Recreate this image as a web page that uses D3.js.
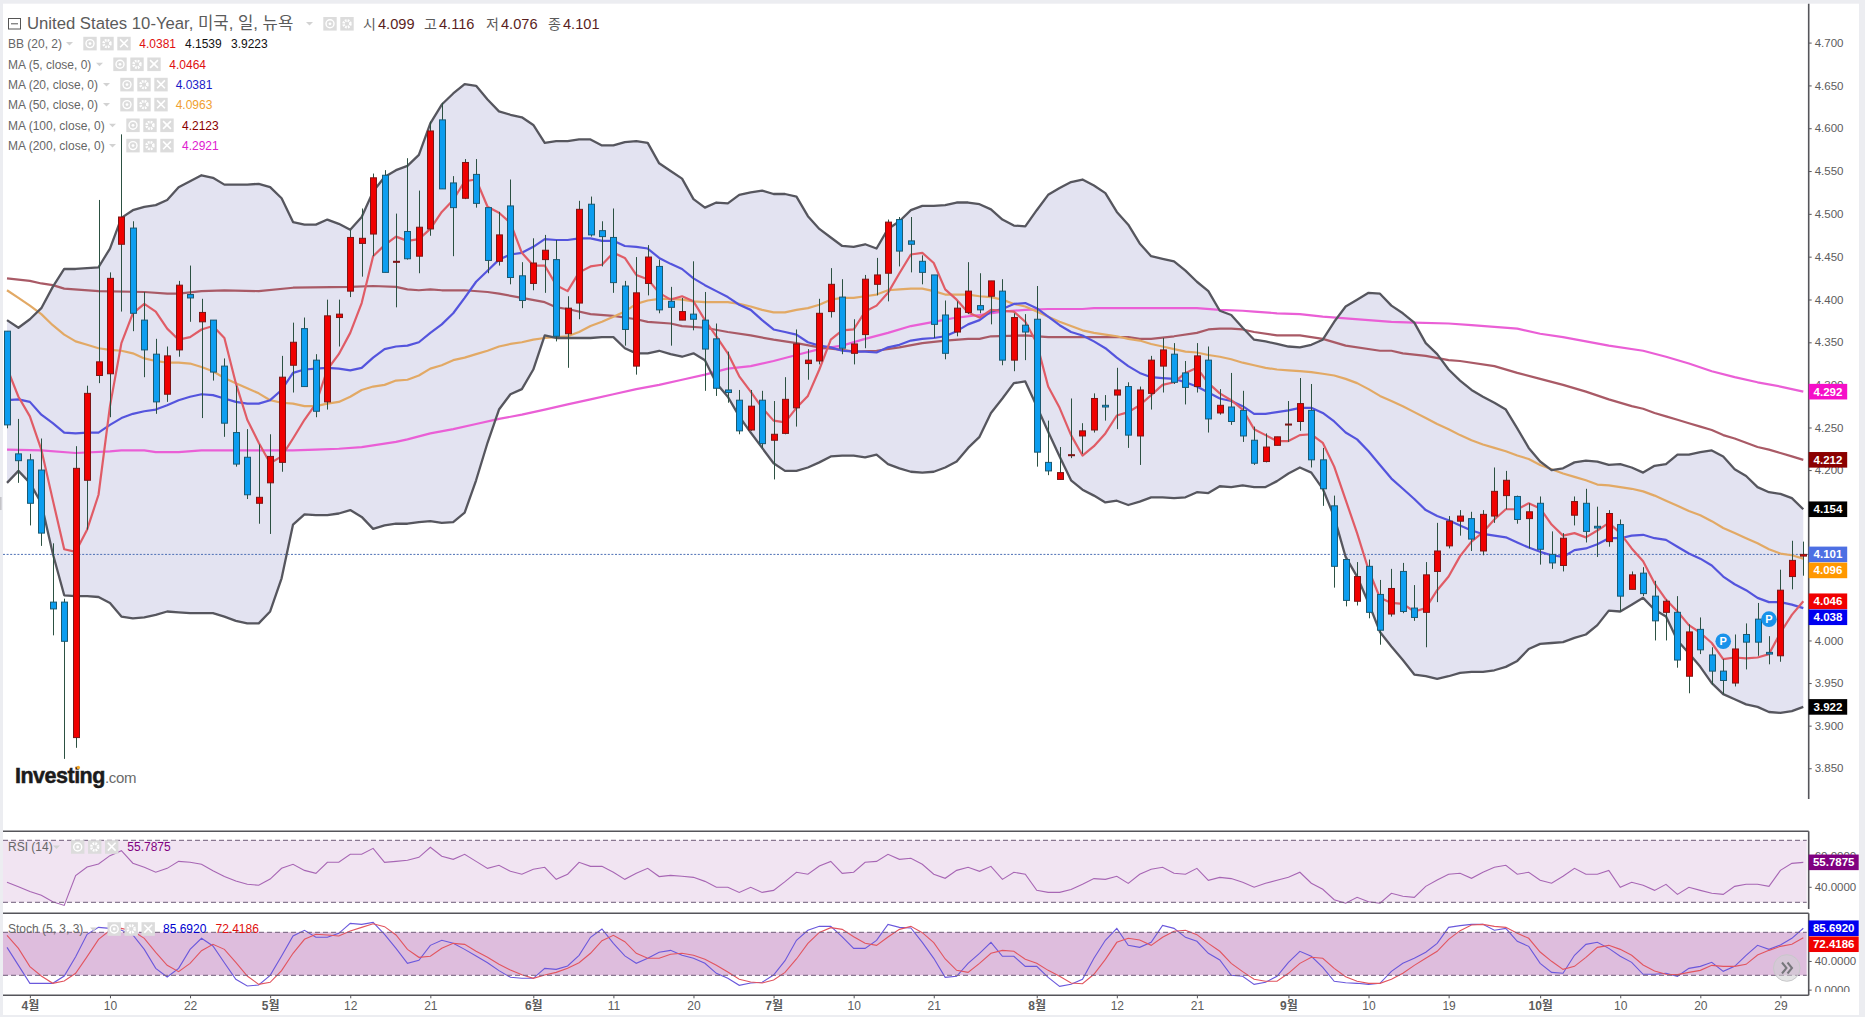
<!DOCTYPE html>
<html lang="ko">
<head>
<meta charset="utf-8">
<title>United States 10-Year</title>
<script src="https://cdn.jsdelivr.net/npm/d3@7/dist/d3.min.js"></script>
<style>
html,body{margin:0;padding:0;background:#fff;overflow:hidden}
svg{display:block}
text{font-family:"Liberation Sans","Noto Sans CJK KR",Arial,sans-serif}
</style>
</head>
<body>
<svg id="chart" width="1865" height="1017"></svg>
<script>
// Daily candles
const opens = [4.363,4.219,4.212,4.200,4.045,4.045,3.886,4.188,4.311,4.313,4.465,4.484,4.376,4.336,4.289,4.341,4.406,4.374,4.376,4.322,4.244,4.215,4.161,4.185,4.209,4.323,4.366,4.329,4.280,4.379,4.410,4.466,4.477,4.546,4.445,4.480,4.451,4.483,4.611,4.537,4.519,4.547,4.508,4.445,4.510,4.428,4.419,4.447,4.447,4.360,4.396,4.512,4.481,4.473,4.416,4.322,4.419,4.439,4.398,4.376,4.383,4.376,4.354,4.294,4.282,4.247,4.282,4.235,4.243,4.273,4.325,4.328,4.386,4.403,4.337,4.359,4.418,4.431,4.494,4.469,4.445,4.429,4.382,4.362,4.385,4.393,4.404,4.410,4.329,4.370,4.377,4.209,4.189,4.217,4.240,4.247,4.276,4.288,4.298,4.240,4.290,4.322,4.336,4.314,4.298,4.329,4.267,4.274,4.270,4.235,4.210,4.229,4.253,4.257,4.270,4.212,4.158,4.095,4.046,4.087,4.054,4.031,4.081,4.038,4.033,4.081,4.111,4.140,4.143,4.105,4.146,4.170,4.169,4.143,4.161,4.101,4.088,4.147,4.161,4.134,4.116,4.136,4.060,4.079,4.052,4.033,4.033,3.958,4.013,3.983,3.964,3.950,4.007,4.025,3.986,3.982,4.075,4.099];
const highs = [4.363,4.260,4.219,4.237,4.114,4.049,4.228,4.299,4.517,4.432,4.594,4.492,4.409,4.354,4.345,4.422,4.440,4.401,4.376,4.331,4.299,4.248,4.230,4.242,4.334,4.373,4.379,4.336,4.400,4.400,4.482,4.507,4.548,4.552,4.501,4.566,4.528,4.609,4.631,4.545,4.565,4.565,4.508,4.503,4.541,4.444,4.472,4.476,4.470,4.404,4.516,4.521,4.492,4.507,4.422,4.450,4.464,4.447,4.415,4.402,4.445,4.409,4.372,4.339,4.294,4.294,4.293,4.281,4.309,4.365,4.342,4.401,4.437,4.424,4.377,4.429,4.449,4.494,4.497,4.497,4.452,4.429,4.399,4.398,4.444,4.431,4.422,4.424,4.384,4.383,4.416,4.258,4.227,4.284,4.255,4.290,4.288,4.320,4.303,4.298,4.334,4.355,4.349,4.328,4.349,4.345,4.295,4.314,4.293,4.251,4.243,4.239,4.281,4.308,4.301,4.226,4.170,4.095,4.092,4.095,4.071,4.084,4.091,4.065,4.092,4.138,4.146,4.153,4.151,4.153,4.203,4.199,4.170,4.161,4.169,4.128,4.126,4.169,4.178,4.157,4.153,4.142,4.081,4.086,4.070,4.048,4.052,4.019,4.027,3.992,3.978,4.007,4.020,4.044,4.005,4.083,4.117,4.116];
const lows = [4.249,4.185,4.135,4.111,4.006,3.861,3.874,4.130,4.302,4.262,4.386,4.363,4.309,4.266,4.280,4.333,4.374,4.261,4.305,4.239,4.204,4.166,4.137,4.125,4.198,4.291,4.298,4.262,4.271,4.345,4.403,4.427,4.451,4.432,4.391,4.447,4.431,4.475,4.530,4.451,4.518,4.508,4.431,4.440,4.418,4.390,4.411,4.408,4.351,4.320,4.377,4.474,4.439,4.408,4.346,4.312,4.405,4.384,4.346,4.376,4.364,4.293,4.287,4.279,4.242,4.246,4.226,4.189,4.242,4.251,4.306,4.324,4.379,4.336,4.324,4.343,4.405,4.398,4.439,4.432,4.418,4.355,4.330,4.357,4.383,4.384,4.371,4.323,4.316,4.329,4.204,4.194,4.189,4.214,4.219,4.244,4.258,4.248,4.226,4.206,4.271,4.291,4.301,4.277,4.291,4.244,4.265,4.253,4.233,4.206,4.209,4.229,4.233,4.246,4.203,4.158,4.062,4.040,4.041,4.026,3.995,4.028,4.032,4.023,3.992,4.045,4.108,4.123,4.105,4.100,4.138,4.154,4.137,4.108,4.089,4.084,4.081,4.135,4.115,4.098,4.110,4.034,4.060,4.052,4.000,4.000,3.968,3.938,3.984,3.948,3.937,3.946,3.966,3.982,3.972,3.975,4.060,4.076];
const closes = [4.253,4.211,4.161,4.126,4.037,3.999,4.202,4.290,4.327,4.425,4.497,4.384,4.341,4.280,4.334,4.417,4.402,4.385,4.315,4.255,4.207,4.171,4.168,4.216,4.309,4.350,4.298,4.269,4.381,4.383,4.473,4.472,4.543,4.432,4.445,4.448,4.485,4.598,4.530,4.508,4.561,4.513,4.446,4.476,4.426,4.399,4.443,4.458,4.357,4.390,4.506,4.476,4.474,4.420,4.365,4.408,4.450,4.388,4.391,4.386,4.377,4.342,4.296,4.291,4.246,4.275,4.231,4.242,4.283,4.348,4.329,4.384,4.418,4.343,4.348,4.424,4.429,4.491,4.457,4.465,4.432,4.371,4.337,4.390,4.410,4.388,4.422,4.329,4.379,4.362,4.221,4.199,4.197,4.218,4.246,4.284,4.274,4.294,4.241,4.294,4.329,4.341,4.303,4.297,4.334,4.260,4.276,4.257,4.240,4.208,4.227,4.239,4.254,4.278,4.212,4.178,4.087,4.047,4.075,4.033,4.012,4.061,4.034,4.027,4.077,4.105,4.140,4.146,4.119,4.148,4.175,4.188,4.142,4.151,4.107,4.091,4.120,4.163,4.128,4.132,4.149,4.052,4.077,4.055,4.023,4.046,3.977,4.010,3.989,3.964,3.953,3.990,3.998,3.998,3.984,4.059,4.094,4.101];
// Bollinger Band edges
const bbUpper = [4.376,4.367,4.377,4.390,4.415,4.436,4.436,4.437,4.438,4.460,4.496,4.505,4.509,4.511,4.517,4.532,4.539,4.546,4.543,4.535,4.535,4.535,4.536,4.532,4.519,4.491,4.488,4.488,4.494,4.489,4.482,4.497,4.527,4.544,4.552,4.557,4.570,4.607,4.629,4.642,4.653,4.651,4.635,4.621,4.617,4.614,4.605,4.584,4.586,4.586,4.588,4.588,4.581,4.581,4.585,4.586,4.584,4.560,4.551,4.542,4.518,4.508,4.514,4.513,4.523,4.526,4.528,4.524,4.524,4.521,4.498,4.483,4.473,4.463,4.462,4.465,4.460,4.483,4.492,4.505,4.510,4.510,4.511,4.514,4.514,4.512,4.506,4.494,4.487,4.486,4.505,4.523,4.531,4.538,4.541,4.534,4.525,4.503,4.488,4.466,4.451,4.448,4.445,4.434,4.421,4.410,4.387,4.382,4.367,4.353,4.351,4.348,4.345,4.344,4.347,4.353,4.374,4.392,4.400,4.408,4.407,4.393,4.384,4.373,4.349,4.336,4.318,4.305,4.294,4.286,4.279,4.271,4.249,4.226,4.210,4.200,4.202,4.209,4.211,4.210,4.206,4.207,4.203,4.197,4.205,4.207,4.218,4.218,4.221,4.223,4.216,4.201,4.193,4.180,4.174,4.172,4.167,4.154];
const bbLower = [4.185,4.199,4.185,4.161,4.102,4.053,4.052,4.052,4.051,4.044,4.028,4.026,4.027,4.030,4.034,4.033,4.032,4.032,4.032,4.028,4.023,4.020,4.020,4.034,4.073,4.136,4.148,4.147,4.147,4.149,4.153,4.145,4.131,4.135,4.137,4.137,4.139,4.140,4.138,4.139,4.150,4.188,4.232,4.271,4.289,4.295,4.318,4.358,4.355,4.355,4.355,4.355,4.356,4.356,4.343,4.337,4.337,4.340,4.336,4.333,4.337,4.329,4.302,4.286,4.263,4.244,4.226,4.208,4.199,4.199,4.203,4.209,4.216,4.217,4.217,4.215,4.218,4.207,4.202,4.198,4.197,4.198,4.203,4.210,4.226,4.239,4.267,4.284,4.302,4.304,4.275,4.245,4.216,4.188,4.177,4.170,4.162,4.164,4.159,4.163,4.168,4.168,4.167,4.168,4.174,4.173,4.181,4.180,4.182,4.180,4.180,4.187,4.196,4.203,4.197,4.178,4.145,4.098,4.075,4.044,4.010,3.993,3.977,3.960,3.958,3.955,3.958,3.962,3.963,3.963,3.965,3.969,3.976,3.990,3.996,3.997,3.998,4.003,4.007,4.018,4.035,4.034,4.042,4.050,4.036,4.028,4.000,3.985,3.969,3.950,3.937,3.931,3.925,3.922,3.916,3.915,3.917,3.922];
// Moving averages
const ma5 = [4.320,4.286,4.263,4.224,4.165,4.107,4.104,4.130,4.171,4.275,4.349,4.384,4.395,4.386,4.366,4.353,4.356,4.365,4.369,4.355,4.302,4.259,4.232,4.208,4.216,4.237,4.259,4.278,4.318,4.336,4.361,4.396,4.451,4.464,4.474,4.469,4.471,4.483,4.503,4.517,4.539,4.541,4.509,4.502,4.490,4.455,4.440,4.440,4.417,4.410,4.432,4.439,4.441,4.455,4.449,4.429,4.424,4.408,4.400,4.404,4.398,4.376,4.357,4.337,4.310,4.292,4.273,4.258,4.256,4.273,4.287,4.318,4.353,4.364,4.365,4.386,4.393,4.408,4.431,4.453,4.455,4.443,4.412,4.400,4.385,4.379,4.388,4.387,4.386,4.374,4.349,4.298,4.273,4.241,4.217,4.228,4.243,4.264,4.268,4.276,4.288,4.300,4.303,4.314,4.320,4.302,4.290,4.282,4.271,4.248,4.241,4.234,4.234,4.241,4.242,4.232,4.204,4.165,4.126,4.083,4.050,4.044,4.043,4.034,4.038,4.059,4.075,4.099,4.116,4.127,4.142,4.154,4.154,4.161,4.155,4.136,4.123,4.126,4.121,4.129,4.138,4.126,4.108,4.093,4.067,4.048,4.034,4.018,4.009,3.997,3.978,3.980,3.979,3.980,3.984,4.009,4.030,4.046];
const ma20 = [4.282,4.283,4.280,4.265,4.255,4.244,4.243,4.244,4.244,4.253,4.261,4.266,4.269,4.271,4.276,4.282,4.286,4.289,4.288,4.284,4.280,4.278,4.278,4.282,4.294,4.314,4.318,4.319,4.320,4.319,4.317,4.320,4.332,4.342,4.345,4.346,4.350,4.361,4.371,4.384,4.402,4.421,4.434,4.447,4.453,4.455,4.462,4.471,4.470,4.470,4.472,4.472,4.469,4.469,4.463,4.462,4.460,4.449,4.442,4.436,4.425,4.417,4.410,4.403,4.394,4.388,4.376,4.365,4.362,4.359,4.350,4.346,4.344,4.340,4.339,4.339,4.338,4.344,4.347,4.352,4.354,4.355,4.357,4.363,4.371,4.376,4.386,4.389,4.395,4.396,4.390,4.380,4.370,4.362,4.358,4.351,4.343,4.332,4.322,4.314,4.309,4.308,4.307,4.303,4.298,4.291,4.284,4.281,4.275,4.266,4.266,4.268,4.270,4.273,4.273,4.267,4.257,4.244,4.236,4.222,4.206,4.190,4.178,4.166,4.153,4.146,4.141,4.135,4.129,4.125,4.123,4.121,4.115,4.109,4.104,4.100,4.098,4.106,4.108,4.113,4.120,4.120,4.123,4.124,4.120,4.118,4.110,4.102,4.096,4.088,4.075,4.066,4.059,4.050,4.045,4.045,4.042,4.038];
const ma50 = [4.411,4.402,4.393,4.383,4.370,4.359,4.351,4.347,4.343,4.341,4.340,4.337,4.331,4.328,4.326,4.326,4.325,4.321,4.316,4.308,4.302,4.296,4.290,4.282,4.279,4.278,4.275,4.275,4.278,4.280,4.286,4.294,4.298,4.300,4.305,4.306,4.311,4.319,4.323,4.329,4.332,4.336,4.340,4.345,4.348,4.350,4.353,4.355,4.356,4.357,4.362,4.369,4.374,4.380,4.386,4.395,4.399,4.401,4.401,4.400,4.398,4.397,4.397,4.397,4.395,4.392,4.388,4.385,4.385,4.388,4.390,4.394,4.400,4.402,4.402,4.404,4.406,4.411,4.412,4.413,4.413,4.410,4.406,4.406,4.406,4.404,4.403,4.400,4.395,4.392,4.386,4.380,4.374,4.369,4.364,4.361,4.359,4.357,4.354,4.352,4.348,4.345,4.342,4.339,4.338,4.335,4.333,4.330,4.326,4.323,4.320,4.318,4.317,4.316,4.315,4.313,4.311,4.307,4.302,4.295,4.287,4.281,4.275,4.268,4.261,4.254,4.248,4.241,4.235,4.230,4.226,4.222,4.217,4.213,4.206,4.201,4.196,4.192,4.188,4.183,4.182,4.180,4.178,4.175,4.170,4.164,4.158,4.152,4.147,4.140,4.132,4.126,4.120,4.114,4.107,4.102,4.100,4.096];
const ma100Days = [0,2,3,4,5,8,12,14,15,17,19,22,25,30,32,34,35,36,37,38,40,42,43,45,47,48,49,51,53,55,56,58,59,61,63,65,67,69,71,73,74,76,78,80,82,84,85,86,89,91,93,98,99,100,102,104,105,106,107,108,109,111,113,115,117,120,121,122,124,126,127,130,132,134,136,138,140,142,143,144,145,146,147,148,149,150,151,152,153,154,155,156,157];
const ma100 = [4.425,4.422,4.419,4.417,4.413,4.410,4.409,4.407,4.407,4.410,4.411,4.410,4.414,4.415,4.416,4.415,4.412,4.411,4.412,4.411,4.411,4.409,4.407,4.402,4.397,4.391,4.389,4.383,4.381,4.377,4.374,4.372,4.369,4.367,4.362,4.358,4.353,4.349,4.344,4.341,4.339,4.340,4.344,4.349,4.352,4.354,4.354,4.357,4.358,4.356,4.356,4.356,4.354,4.354,4.357,4.361,4.365,4.366,4.366,4.365,4.362,4.358,4.358,4.354,4.346,4.340,4.340,4.337,4.334,4.329,4.328,4.322,4.314,4.307,4.300,4.292,4.283,4.275,4.272,4.267,4.263,4.259,4.255,4.251,4.247,4.241,4.237,4.232,4.227,4.224,4.220,4.216,4.212];
const ma200Days = [0,3,6,9,10,12,13,15,17,20,22,25,27,29,31,32,34,35,37,39,41,43,45,47,49,51,53,55,57,59,61,63,65,67,69,71,73,75,77,79,81,83,85,87,89,91,94,95,104,106,108,109,111,113,115,117,119,121,123,126,128,132,134,136,138,140,143,145,147,149,151,153,155,157];
const ma200 = [4.224,4.223,4.220,4.222,4.223,4.223,4.221,4.221,4.223,4.223,4.223,4.223,4.224,4.225,4.227,4.229,4.233,4.236,4.243,4.248,4.254,4.260,4.265,4.271,4.277,4.283,4.289,4.295,4.300,4.306,4.312,4.319,4.322,4.328,4.335,4.342,4.346,4.354,4.361,4.369,4.374,4.379,4.382,4.386,4.388,4.389,4.389,4.390,4.390,4.388,4.387,4.386,4.384,4.383,4.380,4.378,4.376,4.374,4.373,4.372,4.370,4.366,4.360,4.356,4.351,4.346,4.340,4.333,4.325,4.316,4.309,4.303,4.298,4.292];
// Oscillators
const rsi = [42.9,40.1,36.9,34.5,30.4,28.0,47.2,52.8,54.7,60.1,63.3,55.2,52.6,49.4,51.9,56.4,55.8,54.5,50.4,46.6,43.8,41.6,41.0,45.0,51.9,54.5,50.6,48.7,55.8,55.8,61.0,61.0,64.8,55.8,56.4,57.1,59.0,65.5,59.7,57.7,61.0,56.4,51.9,53.9,50.0,48.1,51.3,52.6,44.8,48.1,55.8,53.2,53.2,49.4,44.8,48.7,51.9,46.6,47.4,46.8,46.1,43.5,39.7,39.7,36.4,39.7,36.4,37.7,43.3,49.4,48.1,53.4,56.4,48.7,49.4,55.8,56.4,61.0,57.7,58.4,54.5,48.1,45.5,50.6,52.6,50.0,53.2,44.8,49.4,48.1,37.7,36.4,36.4,38.2,41.6,45.3,44.8,46.8,42.2,48.1,51.3,52.6,48.7,48.1,51.9,44.2,46.1,45.3,42.9,39.7,42.3,44.2,46.1,49.4,42.3,38.4,31.7,29.4,33.2,30.4,29.4,35.8,33.9,33.2,40.3,44.4,48.1,48.7,45.5,49.4,52.6,53.9,48.1,49.4,44.2,42.3,46.8,51.9,48.1,48.1,50.6,39.7,42.9,41.0,37.7,41.6,35.1,39.7,37.7,35.8,35.1,40.3,41.6,41.6,40.3,50.6,55.1,55.7875];
const stochK = [59.0,33.9,8.8,8.8,8.8,19.0,46.0,77.2,86.9,85.5,82.8,76.2,56.2,29.7,17.6,29.7,56.2,71.6,60.9,37.6,14.4,5.1,6.5,20.0,47.0,74.9,82.8,73.0,73.0,78.6,92.5,91.1,93.9,77.2,57.6,36.7,40.9,61.8,68.8,64.6,56.2,47.0,37.6,26.5,17.2,15.8,15.8,29.7,28.3,33.0,47.9,73.0,84.6,64.6,47.0,36.7,43.7,52.1,54.8,47.9,43.7,36.7,22.8,15.8,6.0,9.3,10.2,20.4,40.4,68.8,82.8,88.3,88.3,73.5,57.6,57.6,68.8,91.1,86.9,86.0,66.0,43.7,17.2,18.6,36.7,50.7,66.0,46.5,46.5,32.5,32.5,17.2,4.6,7.4,14.4,43.7,68.8,85.5,61.8,59.0,66.0,89.7,85.5,73.0,67.4,50.7,41.4,20.0,18.6,7.4,10.2,18.6,38.1,53.5,46.5,31.1,11.6,9.7,8.8,7.4,8.8,25.5,36.7,43.7,52.1,64.6,86.9,89.3,91.1,91.1,82.8,85.5,67.4,60.4,36.7,24.1,22.8,47.9,63.2,66.0,57.6,46.5,38.1,21.4,21.4,22.8,18.6,29.7,32.5,38.1,25.5,32.5,47.9,61.8,56.2,62.3,71.6,85.692];
const stochD = [75.8,57.6,32.1,19.0,8.8,12.0,22.8,46.0,70.2,82.8,85.5,81.8,71.6,52.1,33.9,25.1,36.7,54.4,63.2,56.2,38.1,19.0,7.4,10.2,26.5,50.7,70.2,77.2,76.2,74.9,81.8,86.9,92.0,87.9,76.2,56.2,45.1,46.5,57.6,64.6,63.2,53.5,45.1,35.3,27.4,20.9,15.8,20.4,24.1,29.7,37.6,50.7,68.3,75.8,66.9,50.7,43.7,43.7,49.3,50.7,47.9,42.3,33.9,24.6,14.4,10.7,9.3,13.5,24.1,42.8,64.6,79.9,86.5,84.1,73.9,64.6,61.8,73.5,84.1,88.3,79.5,65.5,42.8,26.9,24.1,36.7,50.7,54.8,53.5,42.3,36.7,26.9,18.6,9.3,8.3,21.4,42.3,66.0,71.6,69.3,61.8,73.0,81.4,82.8,76.7,64.6,53.5,36.7,25.1,14.4,11.6,11.6,22.8,36.7,45.1,43.7,29.7,18.1,11.6,8.8,8.8,14.4,22.8,33.9,43.7,53.5,70.2,82.3,90.2,91.1,88.3,86.9,78.6,71.6,52.5,39.5,28.3,32.5,45.1,59.0,61.8,56.2,47.9,34.4,26.0,21.4,20.9,24.1,26.9,33.9,32.5,32.5,35.3,48.3,54.8,60.4,63.2,72.4186];
// Axis contents
const priceTicks = [3.85,3.90,3.95,4.00,4.05,4.10,4.15,4.20,4.25,4.30,4.35,4.40,4.45,4.50,4.55,4.60,4.65,4.70];
const dateTickDays = [2,9,16,23,30,37,46,53,60,67,74,81,90,97,104,112,119,126,134,141,148,155];
const dateTickLabels = ["4월","10","22","5월","12","21","6월","11","20","7월","10","21","8월","12","21","9월","10","19","10월","10","20","29"];
const rsiTicks = [60,40];
const stochTicks = [40,0];
// Event markers on the price pane
const markerDays = [150,154];
const markerPrices = [3.999,4.025];
// Last-value tags on the price axis
const priceTagValues = [4.292,4.212,4.154,4.101,4.096,4.046,4.038,3.922];
const priceTagColors = ["#f50fc8","#8b0000","#000000","#4d6fe3","#ff9800","#f00000","#0000f0","#000000"];
const lastClose = 4.101;

const svg = d3.select("#chart");
const x = d3.scaleLinear().domain([0,157]).range([7,1803.3]);
const y = d3.scaleLinear().domain([3.85,4.70]).range([768.25,44.05]);
const yRsi = d3.scaleLinear().domain([30,70]).range([902.3,840.3]);
const yStoch = d3.scaleLinear().domain([20,80]).range([975.3,932.3]);
const AXIS_X = 1808.7, LEFT = 3, GREY = "#55555a", LABEL = "#5c5c5c";
const lineOf = (ys,scale,days) => d3.line().x((_,i)=>x(days?days[i]:i)).y(v=>scale(v))(ys);

// Page gutters around the chart
svg.append("rect").attr("width",1865).attr("height",1017).attr("fill","#ecedf1");
svg.append("rect").attr("x",LEFT).attr("y",3.7).attr("width",1859-LEFT).attr("height",1015-3.7).attr("fill","#fff");
svg.append("rect").attr("x",0).attr("y",497).attr("width",1.6).attr("height",13).attr("fill","#c4c4c8");

// Bollinger band behind everything in the price pane
svg.append("path").attr("fill","#e3e3f1")
  .attr("d",d3.area().x((_,i)=>x(i)).y1(v=>y(v)).y0((_,i)=>y(bbLower[i]))(bbUpper));
svg.append("line").attr("x1",LEFT).attr("x2",AXIS_X).attr("y1",y(lastClose)).attr("y2",y(lastClose))
  .attr("stroke","#4d6fb5").attr("stroke-dasharray","2 1.6").attr("stroke-width",1);

[[ma200,"#ea5fd6",ma200Days],[ma100,"#a95a66",ma100Days],[ma50,"#e2a965",null],[ma20,"#5454dd",null],[ma5,"#e05c66",null]]
  .forEach(([vals,col,days])=>svg.append("path").attr("fill","none").attr("stroke",col).attr("stroke-width",2.2)
    .attr("stroke-linejoin","round").attr("d",lineOf(vals,y,days)));
[bbUpper,bbLower].forEach(vals=>svg.append("path").attr("fill","none").attr("stroke","#56565e").attr("stroke-width",2.3)
  .attr("stroke-linejoin","round").attr("d",lineOf(vals,y)));

// Candles: red closes up, blue closes down
const candles = svg.append("g").selectAll("g").data(opens).join("g");
const cx = (_,i)=>Math.round(x(i))+0.5;
candles.append("line").attr("x1",cx).attr("x2",cx)
  .attr("y1",(_,i)=>y(highs[i])).attr("y2",(_,i)=>y(lows[i]))
  .attr("stroke","#2c5142").attr("stroke-width",1);
candles.append("rect")
  .attr("x",(_,i)=>Math.round(x(i))-2.5).attr("width",6)
  .attr("y",(o,i)=>y(Math.max(o,closes[i])))
  .attr("height",(o,i)=>Math.max(1,Math.abs(y(o)-y(closes[i]))))
  .attr("fill",(o,i)=>closes[i]>=o?"#f00000":"#0c9def")
  .attr("stroke",(o,i)=>closes[i]>=o?"#7c1616":"#1b5a72").attr("stroke-width",1);

// Event markers
const markers = svg.append("g").selectAll("g").data(markerDays).join("g")
  .attr("transform",(d,i)=>`translate(${x(d)},${y(markerPrices[i])})`);
markers.append("circle").attr("r",7.8).attr("fill","#1992ea");
markers.append("text").attr("text-anchor","middle").attr("y",4).attr("font-size",11).attr("font-weight",700)
  .attr("fill","#fff").text("P");

// Price axis
const axisStyle = (g,size) => {
  g.selectAll(".domain").attr("stroke",GREY).attr("stroke-width",1.6);
  g.selectAll(".tick line").attr("stroke",GREY);
  g.selectAll(".tick text").attr("fill",LABEL).attr("font-size",size);
};
// The upper half of the axis runs slightly wider than the lower half
const priceAxisScale = d3.scaleLinear().domain([3.85,4.35,4.70]).range([768.25,342.3,42.6]);
const priceAxis = svg.append("g").attr("transform",`translate(${AXIS_X},0)`)
  .call(d3.axisRight(priceAxisScale).tickValues(priceTicks)
    .tickFormat(d3.format(".3f")).tickSize(3).tickPadding(3));
priceAxis.call(axisStyle,11.5);
priceAxis.select(".domain").attr("d","M0,3.7V799");

// Value tags stack downward when they would overlap
function drawTags(values,colors,scale,fmt,width){
  let prev = -Infinity;
  values.forEach((v,i)=>{
    const cy = Math.max(scale(v),prev+16); prev = cy;
    const g = svg.append("g").attr("transform",`translate(${AXIS_X},${cy})`);
    g.append("rect").attr("y",-7.8).attr("width",width).attr("height",15.6).attr("fill",colors[i]);
    g.append("text").attr("x",width/2).attr("y",4).attr("text-anchor","middle").attr("font-size",11.5)
      .attr("font-weight",700).attr("fill","#fff").text(fmt(v));
  });
}
drawTags(priceTagValues,priceTagColors,y,d3.format(".3f"),38.5);

// Pane separators
[831.3,913.3,995.3].forEach(yy=>svg.append("line").attr("x1",LEFT).attr("x2",AXIS_X).attr("y1",yy).attr("y2",yy)
  .attr("stroke",GREY).attr("stroke-width",1.4));

// RSI pane
svg.append("rect").attr("x",LEFT).attr("y",yRsi(70)).attr("width",AXIS_X-LEFT-2).attr("height",yRsi(30)-yRsi(70)).attr("fill","#f1e4f2");
svg.append("path").attr("fill","none").attr("stroke","#a766b4").attr("stroke-width",1.1).attr("d",lineOf(rsi,yRsi));
// Stochastic pane
svg.append("rect").attr("x",LEFT).attr("y",yStoch(80)).attr("width",AXIS_X-LEFT-2).attr("height",yStoch(20)-yStoch(80)).attr("fill","#debddd");
svg.append("path").attr("fill","none").attr("stroke","#6a58dc").attr("stroke-width",1.1).attr("d",lineOf(stochK,yStoch));
svg.append("path").attr("fill","none").attr("stroke","#e2555f").attr("stroke-width",1.1).attr("d",lineOf(stochD,yStoch));
[[yRsi,70],[yRsi,30],[yStoch,80],[yStoch,20]].forEach(([s,v])=>svg.append("line")
  .attr("x1",LEFT).attr("x2",AXIS_X-2).attr("y1",s(v)).attr("y2",s(v))
  .attr("stroke","#6f5c78").attr("stroke-width",1).attr("stroke-dasharray","5 3"));

// Oscillator axes
svg.append("clipPath").attr("id","stochClip").append("rect").attr("x",AXIS_X).attr("y",914).attr("width",56).attr("height",78);
const rsiAxis = svg.append("g").attr("transform",`translate(${AXIS_X},0)`)
  .call(d3.axisRight(yRsi).tickValues(rsiTicks).tickFormat(d3.format(".4f")).tickSize(3).tickPadding(3));
rsiAxis.call(axisStyle,11.5);
rsiAxis.select(".domain").attr("d","M0,831.3V909");
const stochAxis = svg.append("g").attr("clip-path","url(#stochClip)").attr("transform",`translate(0,0)`)
  .append("g").attr("transform",`translate(${AXIS_X},0)`)
  .call(d3.axisRight(yStoch).tickValues(stochTicks).tickFormat(d3.format(".4f")).tickSize(3).tickPadding(3));
stochAxis.call(axisStyle,11.5);
stochAxis.select(".domain").remove();
svg.append("line").attr("x1",AXIS_X).attr("x2",AXIS_X).attr("y1",913.3).attr("y2",995.3).attr("stroke",GREY).attr("stroke-width",1.6);
drawTags([55.7875],["#800080"],yRsi,d3.format(".4f"),50);
drawTags([85.692,72.4186],["#0000f0","#f00000"],yStoch,d3.format(".4f"),50);

// Date axis
const dateAxis = svg.append("g").attr("transform","translate(0,995.3)")
  .call(d3.axisBottom(x).tickValues(dateTickDays).tickFormat((d,i)=>dateTickLabels[i]).tickSize(3).tickPadding(3));
dateAxis.select(".domain").remove();
dateAxis.selectAll(".tick line").attr("stroke",GREY);
dateAxis.selectAll(".tick text").attr("fill",LABEL).attr("font-size",12)
  .attr("font-weight",(d,i)=>dateTickLabels[i].includes("월")?700:400);

// Legend icon helpers
function triangle(px,cy){ svg.append("path").attr("fill","#d2d2d2").attr("d",`M${px},${cy-1.5}h7l-3.5,3.5z`); }
function iconBox(px,cy,kind){
  const g = svg.append("g").attr("transform",`translate(${px},${cy})`);
  g.append("rect").attr("y",-6.8).attr("width",13.4).attr("height",13.6).attr("fill","#dcdcdc");
  if(kind==="x"){
    g.append("path").attr("d","M2.8,-4.2L10.6,3.6M10.6,-4.2L2.8,3.6").attr("stroke","#fff").attr("stroke-width",1.6);
  } else if(kind==="eye"){
    g.append("circle").attr("cx",6.7).attr("r",4).attr("fill","none").attr("stroke","#fff").attr("stroke-width",1.4);
    g.append("circle").attr("cx",6.7).attr("r",1.4).attr("fill","#fff");
  } else {
    g.append("circle").attr("cx",6.7).attr("r",3.4).attr("fill","none").attr("stroke","#fff").attr("stroke-width",2.6).attr("stroke-dasharray","1.7 1");
  }
}
function iconSet(px,cy,step){ ["eye","gear","x"].forEach((k,i)=>iconBox(px+i*step,cy,k)); }
function label(px,cy,txt,col,size,weight){
  return svg.append("text").attr("x",px).attr("y",cy).attr("dy","0.35em").attr("fill",col)
    .attr("font-size",size).attr("font-weight",weight||400).text(txt);
}

// Header line
svg.append("rect").attr("x",8.5).attr("y",18.5).attr("width",12).attr("height",10.5).attr("fill","none").attr("stroke","#555").attr("stroke-width",1);
svg.append("line").attr("x1",11).attr("x2",18).attr("y1",23.8).attr("y2",23.8).attr("stroke","#555");
label(27,23.5,"United States 10-Year, 미국, 일, 뉴욕","#5b5b5b",16.7);
triangle(306,23.5);
iconBox(323.3,23.8,"eye"); iconBox(340.3,23.8,"gear");
[["시",363,"4.099",378],["고",424,"4.116",439],["저",486,"4.076",501],["종",548,"4.101",563]].forEach(([k,kx,v,vx])=>{
  label(kx,23.8,k,"#5b5b5b",14);
  label(vx,23.8,v,"#5a1e1e",14.6);
});

// Indicator legend rows
const legendRows = [
  {name:"BB (20, 2)",cy:43.6,tri:66,icons:83.3,vals:[["4.0381",139.3,"#e01010"],["4.1539",185,"#111"],["3.9223",231,"#111"]]},
  {name:"MA (5, close, 0)",cy:64.3,tri:96,icons:113.3,vals:[["4.0464",169.3,"#e01010"]]},
  {name:"MA (20, close, 0)",cy:84.6,tri:103,icons:120.3,vals:[["4.0381",175.7,"#1a1ac8"]]},
  {name:"MA (50, close, 0)",cy:104.6,tri:103,icons:120.3,vals:[["4.0963",175.7,"#f0a030"]]},
  {name:"MA (100, close, 0)",cy:125.3,tri:109,icons:126.3,vals:[["4.2123",182,"#8b0000"]]},
  {name:"MA (200, close, 0)",cy:145.6,tri:109,icons:126.3,vals:[["4.2921",182,"#e020d0"]]}
];
legendRows.forEach(r=>{
  label(8,r.cy,r.name,"#666",12);
  triangle(r.tri,r.cy);
  iconSet(r.icons,r.cy,17);
  r.vals.forEach(([t,px,c])=>label(px,r.cy,t,c,12));
});
label(8,847,"RSI (14)","#666",12); triangle(53,847); iconSet(71,847,17); label(127.3,847,"55.7875","#800080",12);
label(8,929,"Stoch (5, 3, 3)","#666",12); triangle(90,929); iconSet(107.5,929,17);
label(163,929,"85.6920","#0000d0",12); label(215.5,929,"72.4186","#e01010",12);

// Brand mark
svg.append("text").attr("x",15).attr("y",783).attr("font-size",21.5).attr("font-weight",700).attr("fill","#1b1b1b")
  .attr("stroke","#1b1b1b").attr("stroke-width",0.5).attr("letter-spacing",-0.5).text("Investing");
svg.append("text").attr("x",105).attr("y",783).attr("font-size",15).attr("fill","#6a6a6a").attr("letter-spacing",-0.3).text(".com");
svg.append("circle").attr("cx",78.3).attr("cy",767.5).attr("r",1.7).attr("fill","#f5a623");

// Scroll-to-latest button
svg.append("circle").attr("cx",1786.8).attr("cy",968).attr("r",13.3).attr("fill","#cfcfd2").attr("fill-opacity",0.55)
  .attr("stroke","#c8c8ca").attr("stroke-width",1);
svg.append("path").attr("fill","none").attr("stroke","#77777c").attr("stroke-width",2)
  .attr("d","M1782,962.5l4.5,5.5l-4.5,5.5M1787.5,962.5l4.5,5.5l-4.5,5.5");
</script>
</body>
</html>
